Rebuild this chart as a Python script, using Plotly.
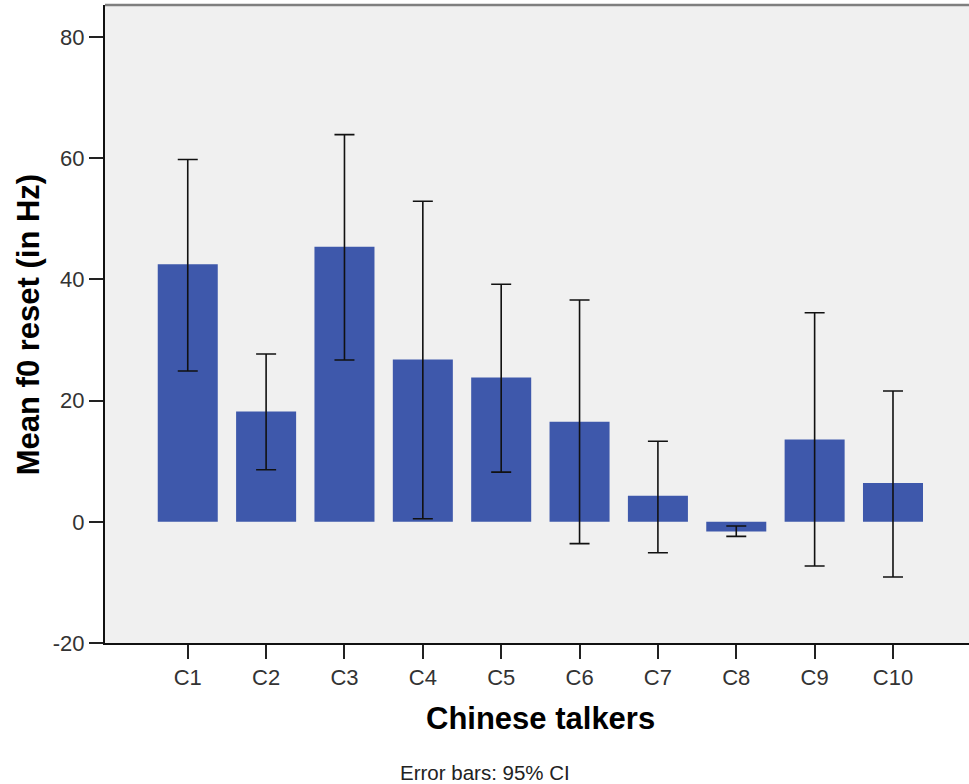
import plotly.graph_objects as go

# Mean f0 reset per Chinese talker with 95% confidence intervals
talkers = ["C1", "C2", "C3", "C4", "C5", "C6", "C7", "C8", "C9", "C10"]
mean_reset = [42.5, 18.2, 45.4, 26.8, 23.8, 16.5, 4.3, -1.6, 13.6, 6.4]
ci_low = [24.9, 8.6, 26.7, 0.5, 8.2, -3.6, -5.1, -2.4, -7.3, -9.1]
ci_high = [59.8, 27.7, 63.9, 52.9, 39.2, 36.6, 13.3, -0.7, 34.5, 21.6]
y_ticks = [-20, 0, 20, 40, 60, 80]
y_tick_labels = ["-20", "0", "20", "40", "60", "80"]

err_plus = [h - m for h, m in zip(ci_high, mean_reset)]
err_minus = [m - l for m, l in zip(mean_reset, ci_low)]

fig = go.Figure(
    go.Bar(
        x=talkers,
        y=mean_reset,
        width=0.766,
        marker=dict(color="#3e58ab", line=dict(width=0)),
        error_y=dict(
            type="data",
            symmetric=False,
            array=err_plus,
            arrayminus=err_minus,
            color="#111111",
            thickness=1.6,
            width=10,
        ),
    )
)

font_main = "Liberation Sans, Arial, sans-serif"

fig.update_layout(
    width=969,
    height=784,
    margin=dict(l=105, r=0, t=5, b=141),
    paper_bgcolor="white",
    plot_bgcolor="#f0f0f0",
    showlegend=False,
    font=dict(family=font_main, color="#333333"),
    bargap=0.2,
)

fig.update_xaxes(
    type="category",
    range=[-1.056, 9.97],
    showgrid=False,
    zeroline=False,
    showline=True,
    linecolor="#111111",
    linewidth=2,
    ticks="outside",
    ticklen=14,
    tickwidth=2,
    tickcolor="#222222",
    tickfont=dict(size=22, color="#333333"),
)

fig.update_yaxes(
    range=[-20, 85.3],
    tickvals=y_ticks,
    ticktext=y_tick_labels,
    showgrid=False,
    zeroline=False,
    showline=True,
    linecolor="#111111",
    linewidth=2,
    ticks="outside",
    ticklen=14,
    tickwidth=2,
    tickcolor="#222222",
    tickfont=dict(size=22, color="#333333"),
)

# grey frame line along the top of the plotting area
fig.add_shape(
    type="line", xref="paper", yref="paper",
    x0=0, x1=1, y0=1, y1=1,
    line=dict(color="#7f7f7f", width=2.5),
)

fig.add_annotation(
    text="<b>Chinese talkers</b>", xref="paper", yref="paper",
    x=0.504, y=-0.1176, showarrow=False, xanchor="center", yanchor="middle",
    font=dict(size=31, color="#000000", family=font_main),
)
fig.add_annotation(
    text="<b>Mean f0 reset (in Hz)</b>", xref="paper", yref="paper",
    x=-0.0891, y=0.498, showarrow=False, xanchor="center", yanchor="middle",
    textangle=-90,
    font=dict(size=31, color="#000000", family=font_main),
)
fig.add_annotation(
    text="Error bars: 95% CI", xref="paper", yref="paper",
    x=0.44, y=-0.2027, showarrow=False, xanchor="center", yanchor="middle",
    font=dict(size=20.5, color="#222222", family=font_main),
)

fig.write_html("out.html")
